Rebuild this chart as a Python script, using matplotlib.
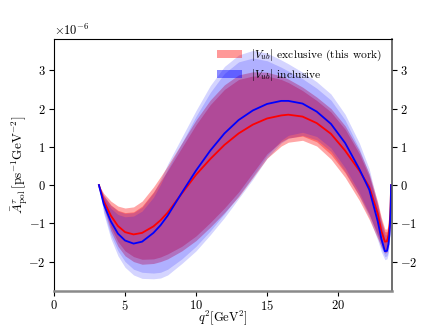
import matplotlib
matplotlib.use("Agg")
import numpy as np
import matplotlib.pyplot as plt
from matplotlib.patches import Patch

plt.rcParams['font.family'] = 'serif'
plt.rcParams['font.serif'] = ['cmr10']
plt.rcParams['mathtext.fontset'] = 'cm'
plt.rcParams['axes.formatter.use_mathtext'] = True
plt.rcParams['axes.unicode_minus'] = True

# q^2 grid in GeV^2
q2 = [3.16, 3.5, 4, 4.5, 5, 5.6, 6.2, 7, 7.5, 8, 9, 10, 11, 12, 13, 14, 15, 16, 16.5,
      17.5, 18.5, 19.5, 20.5, 21.5, 22.2, 22.8, 23.05, 23.3, 23.45, 23.55, 23.62, 23.68, 23.71, 23.74]

# exclusive |Vub| (this work), in units of 1e-6
red_c = [0, -0.42, -0.8, -1.07, -1.23, -1.29, -1.25, -1.08, -0.92, -0.72, -0.22, 0.27, 0.68, 1.05,
         1.35, 1.58, 1.74, 1.82, 1.84, 1.79, 1.62, 1.34, 0.9, 0.38, -0.05, -0.75,
         -1.2, -1.48, -1.47, -1.32, -1.1, -0.75, -0.45, 0]
red_up_out = [0, -0.22, -0.42, -0.55, -0.6, -0.57, -0.42, -0.05, 0.22, 0.5, 1.1, 1.7, 2.22, 2.62,
              2.88, 2.96, 2.95, 2.85, 2.77, 2.56, 2.3, 2.0, 1.55, 0.9, 0.3, -0.45,
              -0.85, -1.15, -1.15, -1.0, -0.82, -0.55, -0.33, 0]
red_up_in = [0, -0.28, -0.52, -0.66, -0.72, -0.7, -0.55, -0.18, 0.1, 0.38, 0.98, 1.58, 2.1, 2.5,
             2.76, 2.85, 2.85, 2.76, 2.68, 2.47, 2.21, 1.91, 1.46, 0.82, 0.22, -0.52,
             -0.92, -1.22, -1.22, -1.07, -0.88, -0.6, -0.36, 0]
red_lo_out = [0, -0.6, -1.2, -1.6, -1.85, -2.0, -2.07, -2.05, -2.0, -1.93, -1.72, -1.45, -1.1, -0.72,
              -0.3, 0.2, 0.7, 1.02, 1.12, 1.17, 1.02, 0.68, 0.2, -0.4, -0.9, -1.4,
              -1.62, -1.78, -1.75, -1.6, -1.35, -1.0, -0.6, 0]
red_lo_in = [0, -0.55, -1.1, -1.48, -1.72, -1.87, -1.94, -1.93, -1.88, -1.8, -1.6, -1.33, -0.98, -0.6,
             -0.18, 0.32, 0.82, 1.13, 1.23, 1.28, 1.13, 0.8, 0.32, -0.28, -0.78, -1.3,
             -1.52, -1.7, -1.67, -1.52, -1.28, -0.95, -0.57, 0]

# inclusive |Vub|
blue_c = [0, -0.5, -0.95, -1.27, -1.45, -1.53, -1.48, -1.25, -1.05, -0.8, -0.2, 0.38, 0.9, 1.35,
          1.7, 1.95, 2.12, 2.2, 2.2, 2.13, 1.92, 1.6, 1.1, 0.42, -0.12, -0.95,
          -1.4, -1.73, -1.72, -1.55, -1.3, -0.9, -0.55, 0]
blue_up_out = [0, -0.27, -0.53, -0.68, -0.74, -0.72, -0.58, -0.2, 0.15, 0.55, 1.25, 1.95, 2.6, 3.1,
               3.4, 3.52, 3.45, 3.27, 3.17, 2.95, 2.7, 2.38, 1.85, 1.1, 0.42, -0.5,
               -0.95, -1.3, -1.3, -1.15, -0.92, -0.65, -0.38, 0]
blue_up_in = [0, -0.32, -0.61, -0.77, -0.83, -0.81, -0.68, -0.32, 0.02, 0.42, 1.1, 1.8, 2.42, 2.92,
              3.22, 3.32, 3.25, 3.08, 2.98, 2.78, 2.53, 2.22, 1.7, 0.95, 0.28, -0.6,
              -1.05, -1.4, -1.4, -1.25, -1.0, -0.72, -0.42, 0]
blue_lo_out = [0, -0.75, -1.4, -1.85, -2.15, -2.35, -2.44, -2.45, -2.43, -2.35, -2.05, -1.72, -1.3, -0.85,
               -0.35, 0.15, 0.7, 1.1, 1.22, 1.3, 1.18, 0.88, 0.35, -0.3, -0.85, -1.45,
               -1.75, -1.95, -1.93, -1.78, -1.5, -1.15, -0.7, 0]
blue_lo_in = [0, -0.7, -1.3, -1.72, -2.0, -2.2, -2.28, -2.3, -2.28, -2.2, -1.93, -1.6, -1.2, -0.75,
              -0.27, 0.23, 0.77, 1.17, 1.3, 1.38, 1.27, 0.97, 0.45, -0.2, -0.75, -1.35,
              -1.65, -1.87, -1.85, -1.7, -1.43, -1.1, -0.66, 0]


def s(v):
    return np.array(v) * 1e-6


fig = plt.figure(figsize=(4.36, 3.27), dpi=100)
ax = fig.add_axes([0.124, 0.110, 0.775, 0.771])

# bands
ax.fill_between(q2, s(red_lo_out), s(red_up_out), color='red', alpha=0.35, lw=0)
ax.fill_between(q2, s(red_lo_in), s(red_up_in), color='red', alpha=0.35, lw=0)
ax.fill_between(q2, s(blue_lo_out), s(blue_up_out), color='blue', alpha=0.17, lw=0)
ax.fill_between(q2, s(blue_lo_in), s(blue_up_in), color='blue', alpha=0.17, lw=0)

# central values
ax.plot(q2, s(red_c), color='red', lw=1.3)
ax.plot(q2, s(blue_c), color='blue', lw=1.3)

ax.set_xlim(0, 23.8)
ax.set_ylim(-2.77e-6, 3.82e-6)
ax.set_xticks([0, 5, 10, 15, 20])
ax.set_yticks([-2e-6, -1e-6, 0, 1e-6, 2e-6, 3e-6])
ax.tick_params(right=True, labelright=True, labelsize=9, pad=2.5)
ax.yaxis.get_offset_text().set_fontsize(9)

ax.spines['bottom'].set_color('#8a8a8a')
ax.spines['bottom'].set_linewidth(1.8)
ax.spines['right'].set_color('#555555')
ax.spines['right'].set_linewidth(1.2)

ax.set_xlabel(r'$q^2[\mathrm{GeV}^2]$', fontsize=9)
ax.xaxis.set_label_coords(0.5, -0.07)
ax.set_ylabel(r'$\bar{A}^{\tau}_{\mathrm{pol}}\,[\mathrm{ps}^{-1}\mathrm{GeV}^{-2}]$', fontsize=9.5)
ax.yaxis.set_label_coords(-0.072, 0.5)

handles = [Patch(facecolor='red', alpha=0.4, lw=0), Patch(facecolor='blue', alpha=0.45, lw=0)]
labels = [r'$|V_{ub}|$ exclusive (this work)', r'$|V_{ub}|$ inclusive']
ax.legend(handles, labels, loc='upper right', frameon=False, fontsize=8.3,
          handlelength=2.2, handletextpad=0.8, borderaxespad=0.4, labelspacing=0.3)

fig.savefig('out.png', dpi=100)
